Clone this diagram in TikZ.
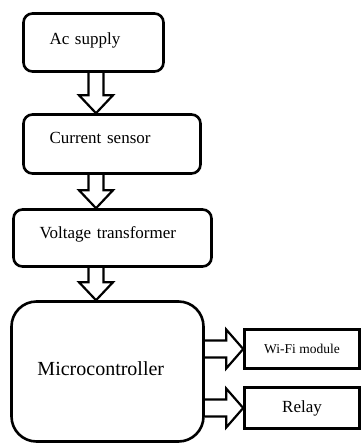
\documentclass[tikz,border=0pt]{standalone}
\usepackage{fontspec}
\setmainfont{Liberation Serif}
\usetikzlibrary{calc}
\tikzset{
	block/.style={draw, black, line width=2.6pt, rounded corners=9pt, align=left, inner xsep=26pt, text height=12pt, font=\fontsize{17}{20}\selectfont},
	module/.style={draw, black, line width=2.6pt, align=center, minimum width=115pt, font=\fontsize{17}{20}\selectfont},
	hollow/.style={draw, black, line width=2.2pt, line join=miter},
}
\newcommand{\downblock}[2]{%
	\draw[hollow]	($(ax |- #1.south) + (-7.5, 0)$) -- ($(ax |- #2.north) + (-7.5, -18)$) -- ++(-9.5, 0) -- (ax |- #2.north)
					-- ($(ax |- #2.north) + (17, -18)$) -- ++(-9.5, 0) -- ($(ax |- #1.south) + (7.5, 0)$);}
\newcommand{\rightblock}[2]{%
	\draw[hollow]	($(#1.east |- #2.west) + (0, -8.5)$) -- ($(#2.west) + (-17, -8.5)$) -- ++(0, -11) -- (#2.west)
					-- ($(#2.west) + (-17, 19.5)$) -- ++(0, -11) -- ($(#1.east |- #2.west) + (0, 8.5)$);}
\begin{document}
\begin{tikzpicture}[x=1pt, y=-1pt]
		\useasboundingbox (0, 0) rectangle (361, 445);

		\node[block, text width=88pt, minimum height=58pt, text depth=7.4pt]		(ac)	at (93.5, 42.5)	{Ac supply};
		\node[block, text width=125pt, minimum height=59pt, text depth=12.4pt]	(cs)	at (112, 144)	{Current sensor};
		\node[block, text width=146pt, minimum height=57pt, text depth=11pt]		(vt)	at (112.5, 238)	{Voltage transformer};
		\node[block, text width=140pt, minimum height=140pt, rounded corners=25pt, text height=14pt, text depth=7pt, font=\fontsize{20}{24}\selectfont]
																					(mc)	at (107.5, 371.5)	{Microcontroller};
		\node[module, minimum height=39pt, font=\fontsize{13.5}{16}\selectfont]	(wifi)	at (302, 349)	{Wi-Fi module};
		\node[module, minimum height=41pt]											(relay)	at (302, 408)	{Relay};

		\coordinate (ax) at (96, 0);
		\downblock{ac}{cs}
		\downblock{cs}{vt}
		\downblock{vt}{mc}
		\rightblock{mc}{wifi}
		\rightblock{mc}{relay}
	\end{tikzpicture}
\end{document}
